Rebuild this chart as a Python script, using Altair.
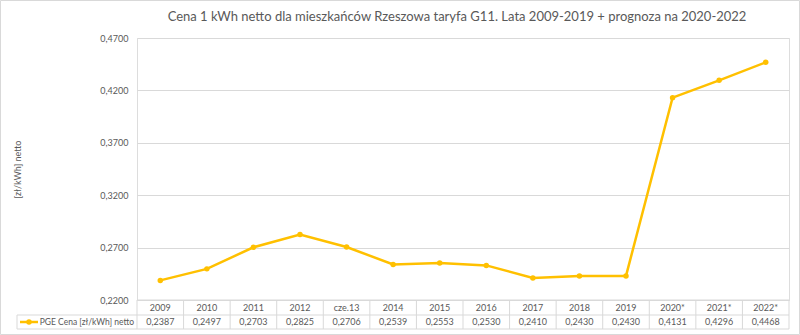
import altair as alt
import pandas as pd

categories = ["2009", "2010", "2011", "2012", "cze.13", "2014", "2015", "2016",
              "2017", "2018", "2019", "2020*", "2021*", "2022*"]
values = [0.2387, 0.2497, 0.2703, 0.2825, 0.2706, 0.2539, 0.2553, 0.2530,
          0.2410, 0.2430, 0.2430, 0.4131, 0.4296, 0.4468]
y_ticks = [0.22, 0.27, 0.32, 0.37, 0.42, 0.47]
series_name = "PGE Cena [zł/kWh] netto"
title = "Cena 1 kWh netto dla mieszkańców Rzeszowa taryfa G11. Lata 2009-2019 + prognoza na 2020-2022"

W, H = 652, 262
GOLD = "#FFC000"
TXT = "#595959"
GRID = "#D9D9D9"
FONT = "Lato"

df = pd.DataFrame({
    "cat": categories,
    "val": values,
    "lbl": [f"{v:.4f}".replace(".", ",") for v in values],
})
one = pd.DataFrame({"k": [0]})

xs = alt.X("cat:N", sort=categories, axis=None,
           scale=alt.Scale(paddingInner=0, paddingOuter=0))
ys = alt.Y("val:Q",
           scale=alt.Scale(domain=[0.22, 0.47], nice=False, zero=False),
           axis=alt.Axis(values=y_ticks, grid=True, gridColor=GRID, domain=False,
                         ticks=False, labelColor=TXT, labelFont=FONT, labelFontSize=9,
                         labelPadding=9,
                         labelExpr="replace(format(datum.value, '.4f'), '.', ',')",
                         title="[zł/kWh] netto", titleColor=TXT, titleFont=FONT,
                         titleFontSize=9, titleFontWeight="normal", titlePadding=77))

base = alt.Chart(df)
single = alt.Chart(one)

line = base.mark_line(color=GOLD, strokeWidth=2.5).encode(x=xs, y=ys)
pts = base.mark_circle(color=GOLD, size=30, opacity=1).encode(x=xs, y="val:Q")

hdr = base.mark_text(font=FONT, fontSize=9, color=TXT, baseline="middle").encode(
    x=xs, text="cat:N", y=alt.value(H + 8))
vals = base.mark_text(font=FONT, fontSize=9, color=TXT, baseline="middle").encode(
    x=xs, text="lbl:N", y=alt.value(H + 22))

vlines = base.mark_rule(color=GRID, strokeWidth=1).encode(
    x=alt.X("cat:N", sort=categories, bandPosition=0, axis=None),
    y=alt.value(H), y2=alt.value(H + 29))
rlast = single.mark_rule(color=GRID).encode(x=alt.value(W), y=alt.value(H), y2=alt.value(H + 29))
h1 = single.mark_rule(color=GRID).encode(x=alt.value(0), x2=alt.value(W), y=alt.value(H))
h2 = single.mark_rule(color=GRID).encode(x=alt.value(-120), x2=alt.value(W), y=alt.value(H + 15))
h3 = single.mark_rule(color=GRID).encode(x=alt.value(-120), x2=alt.value(W), y=alt.value(H + 29))
lv = single.mark_rule(color=GRID).encode(x=alt.value(-120), y=alt.value(H + 15), y2=alt.value(H + 29))

leg_line = single.mark_rule(color=GOLD, strokeWidth=2.5).encode(
    x=alt.value(-117), x2=alt.value(-99), y=alt.value(H + 22))
leg_pt = single.mark_circle(color=GOLD, size=30, opacity=1).encode(
    x=alt.value(-108), y=alt.value(H + 22))
leg_txt = single.mark_text(font=FONT, fontSize=8.5, color=TXT, align="right", baseline="middle",
                           text=series_name).encode(x=alt.value(-3), y=alt.value(H + 22))

ttl = single.mark_text(font=FONT, fontSize=13, color=TXT, align="center", baseline="middle",
                       text=title).encode(x=alt.value(320), y=alt.value(-21))

border = single.mark_rect(fill=None, stroke=GRID, strokeWidth=1).encode(
    x=alt.value(-136.5), x2=alt.value(662.5), y=alt.value(-37.5), y2=alt.value(296.5))

chart = alt.layer(
    border, h1, h2, h3, lv, vlines, rlast, line, pts, hdr, vals, leg_line, leg_pt, leg_txt, ttl
).properties(
    width=W, height=H,
    autosize=alt.AutoSizeParams(type="none"),
    padding={"left": 137, "top": 38, "right": 11, "bottom": 35},
).configure_view(stroke=None).configure(background="white")

chart.save("out.html", embed_options={"renderer": "svg", "actions": False})
